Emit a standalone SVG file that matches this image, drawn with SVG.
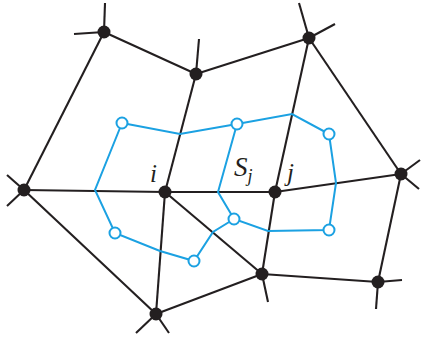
<svg xmlns="http://www.w3.org/2000/svg" width="421" height="338" viewBox="0 0 421 338">
<style>
.k{stroke:#231f20;stroke-width:2.1;fill:none;stroke-linecap:butt}
.b{stroke:#1ba1e2;stroke-width:2;fill:none;stroke-linejoin:miter}
.n{fill:#231f20}
.o{fill:#fff;stroke:#1ba1e2;stroke-width:2}
.t{font-family:"Liberation Serif",serif;font-style:italic;fill:#231f20}
</style>
<rect width="421" height="338" fill="#fff"/>
<g id="connectors">
<g class="k">
<line x1="104" y1="32" x2="196" y2="74"/>
<line x1="104" y1="32" x2="24" y2="190"/>
<line x1="196" y1="74" x2="309" y2="38"/>
<line x1="196" y1="74" x2="165" y2="192"/>
<line x1="309" y1="38" x2="275" y2="192"/>
<line x1="309" y1="38" x2="401" y2="174"/>
<line x1="24" y1="190" x2="165" y2="192"/>
<line x1="24" y1="190" x2="156" y2="314"/>
<line x1="165" y1="192" x2="275" y2="192"/>
<line x1="165" y1="192" x2="156" y2="314"/>
<line x1="165" y1="192" x2="262" y2="274"/>
<line x1="275" y1="192" x2="401" y2="174"/>
<line x1="275" y1="192" x2="262" y2="274"/>
<line x1="262" y1="274" x2="378" y2="282"/>
<line x1="262" y1="274" x2="156" y2="314"/>
<line x1="401" y1="174" x2="378" y2="282"/>
<line x1="104" y1="32" x2="105" y2="3"/>
<line x1="104" y1="32" x2="74" y2="34"/>
<line x1="196" y1="74" x2="199" y2="39"/>
<line x1="309" y1="38" x2="299" y2="3"/>
<line x1="309" y1="38" x2="335" y2="24"/>
<line x1="24" y1="190" x2="7" y2="175"/>
<line x1="24" y1="190" x2="7" y2="206"/>
<line x1="401" y1="174" x2="420" y2="160"/>
<line x1="401" y1="174" x2="419" y2="189"/>
<line x1="262" y1="274" x2="268" y2="302"/>
<line x1="378" y1="282" x2="402" y2="280"/>
<line x1="378" y1="282" x2="376" y2="309"/>
<line x1="156" y1="314" x2="136" y2="333"/>
<line x1="156" y1="314" x2="169" y2="333"/>
</g>
<polyline class="b" points="122,123 180,134 237,124 292,114 329,134 336,183 329,230 268,231 234,219 218,192 237,124"/>
<polyline class="b" points="122,123 95,190 115,233 160,251 194,261 213,232 234,219"/>
</g>
<g id="node-A"><circle class="n" cx="104" cy="32" r="6.5"/></g>
<g id="node-B"><circle class="n" cx="196" cy="74" r="6.5"/></g>
<g id="node-C"><circle class="n" cx="309" cy="38" r="6.5"/></g>
<g id="node-D"><circle class="n" cx="24" cy="190" r="6.5"/></g>
<g id="node-i"><circle class="n" cx="165" cy="192" r="6.5"/><text class="t" x="150" y="182" font-size="25">i</text></g>
<g id="node-j"><circle class="n" cx="275" cy="192" r="6.5"/><text class="t" x="287" y="181" font-size="25">j</text></g>
<g id="node-E"><circle class="n" cx="401" cy="174" r="6.5"/></g>
<g id="node-F"><circle class="n" cx="262" cy="274" r="6.5"/></g>
<g id="node-G"><circle class="n" cx="378" cy="282" r="6.5"/></g>
<g id="node-H"><circle class="n" cx="156" cy="314" r="6.5"/></g>
<g id="cell-Sj"><text class="t" x="234" y="176" font-size="27">S<tspan font-size="18" dy="6">j</tspan></text></g>
<g id="sites">
<circle class="o" cx="122" cy="123" r="5.5"/>
<circle class="o" cx="237" cy="124" r="5.5"/>
<circle class="o" cx="329" cy="134" r="5.5"/>
<circle class="o" cx="115" cy="233" r="5.5"/>
<circle class="o" cx="194" cy="261" r="5.5"/>
<circle class="o" cx="234" cy="219" r="5.5"/>
<circle class="o" cx="329" cy="230" r="5.5"/>
</g>
</svg>
